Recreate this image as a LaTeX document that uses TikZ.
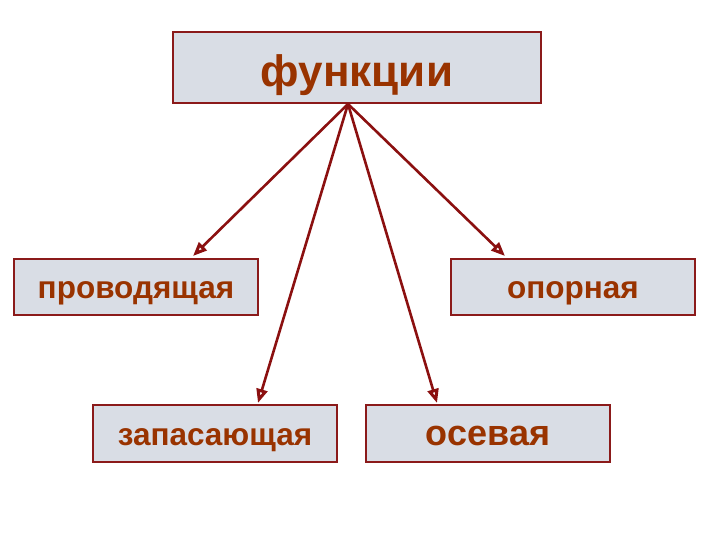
\documentclass[tikz,border=0pt]{standalone}
\usepackage{fontspec}
\setmainfont{Liberation Sans}
\usepackage{xcolor}
\usetikzlibrary{arrows.meta,calc,positioning}
\definecolor{boxfill}{HTML}{D9DDE5}
\definecolor{boxline}{HTML}{8B1A1A}
\definecolor{wordcol}{HTML}{993300}
\definecolor{arrowcol}{HTML}{8B1010}

\begin{document}
\begin{tikzpicture}[x=1pt,y=-1pt]
\tikzstyle{every node}=[draw=boxline,fill=boxfill,line width=1.8pt,inner sep=0pt,text=wordcol,text depth=0pt];
\tikzstyle{small}=[minimum width=244pt,minimum height=56pt,text height=23pt,font=\bfseries\fontsize{31.5}{34}\selectfont];
\tikzstyle{link}=[draw=arrowcol,line width=2.6pt,-{Triangle[open,length=14pt,width=11pt,line width=3pt]}];
\useasboundingbox (0,0) rectangle (720,540);

\node[minimum width=368pt,minimum height=71pt,text height=39pt,font=\bfseries\fontsize{44}{46}\selectfont] (func) at (357,67.5) {функции};
\node[small] (prov) at (136,287) {проводящая}; %left
\node[small] (opor) at (573,287) {опорная}; %right
\node[small,minimum height=57pt] (zap) at (215,433.5) {запасающая};
\node[small,minimum height=57pt,font=\bfseries\fontsize{36}{38}\selectfont] (os) at (488,433.5) {осевая};

\coordinate (hub) at (348,104);
\coordinate (provend) at (193,256);
\coordinate (oporend) at (505,256);
\coordinate (zapend) at (258,403);
\coordinate (osend) at (437,403);

\foreach \t in {provend,oporend,zapend,osend} {
	\draw[link] (hub) -- (\t);
}
\end{tikzpicture}
\end{document}
